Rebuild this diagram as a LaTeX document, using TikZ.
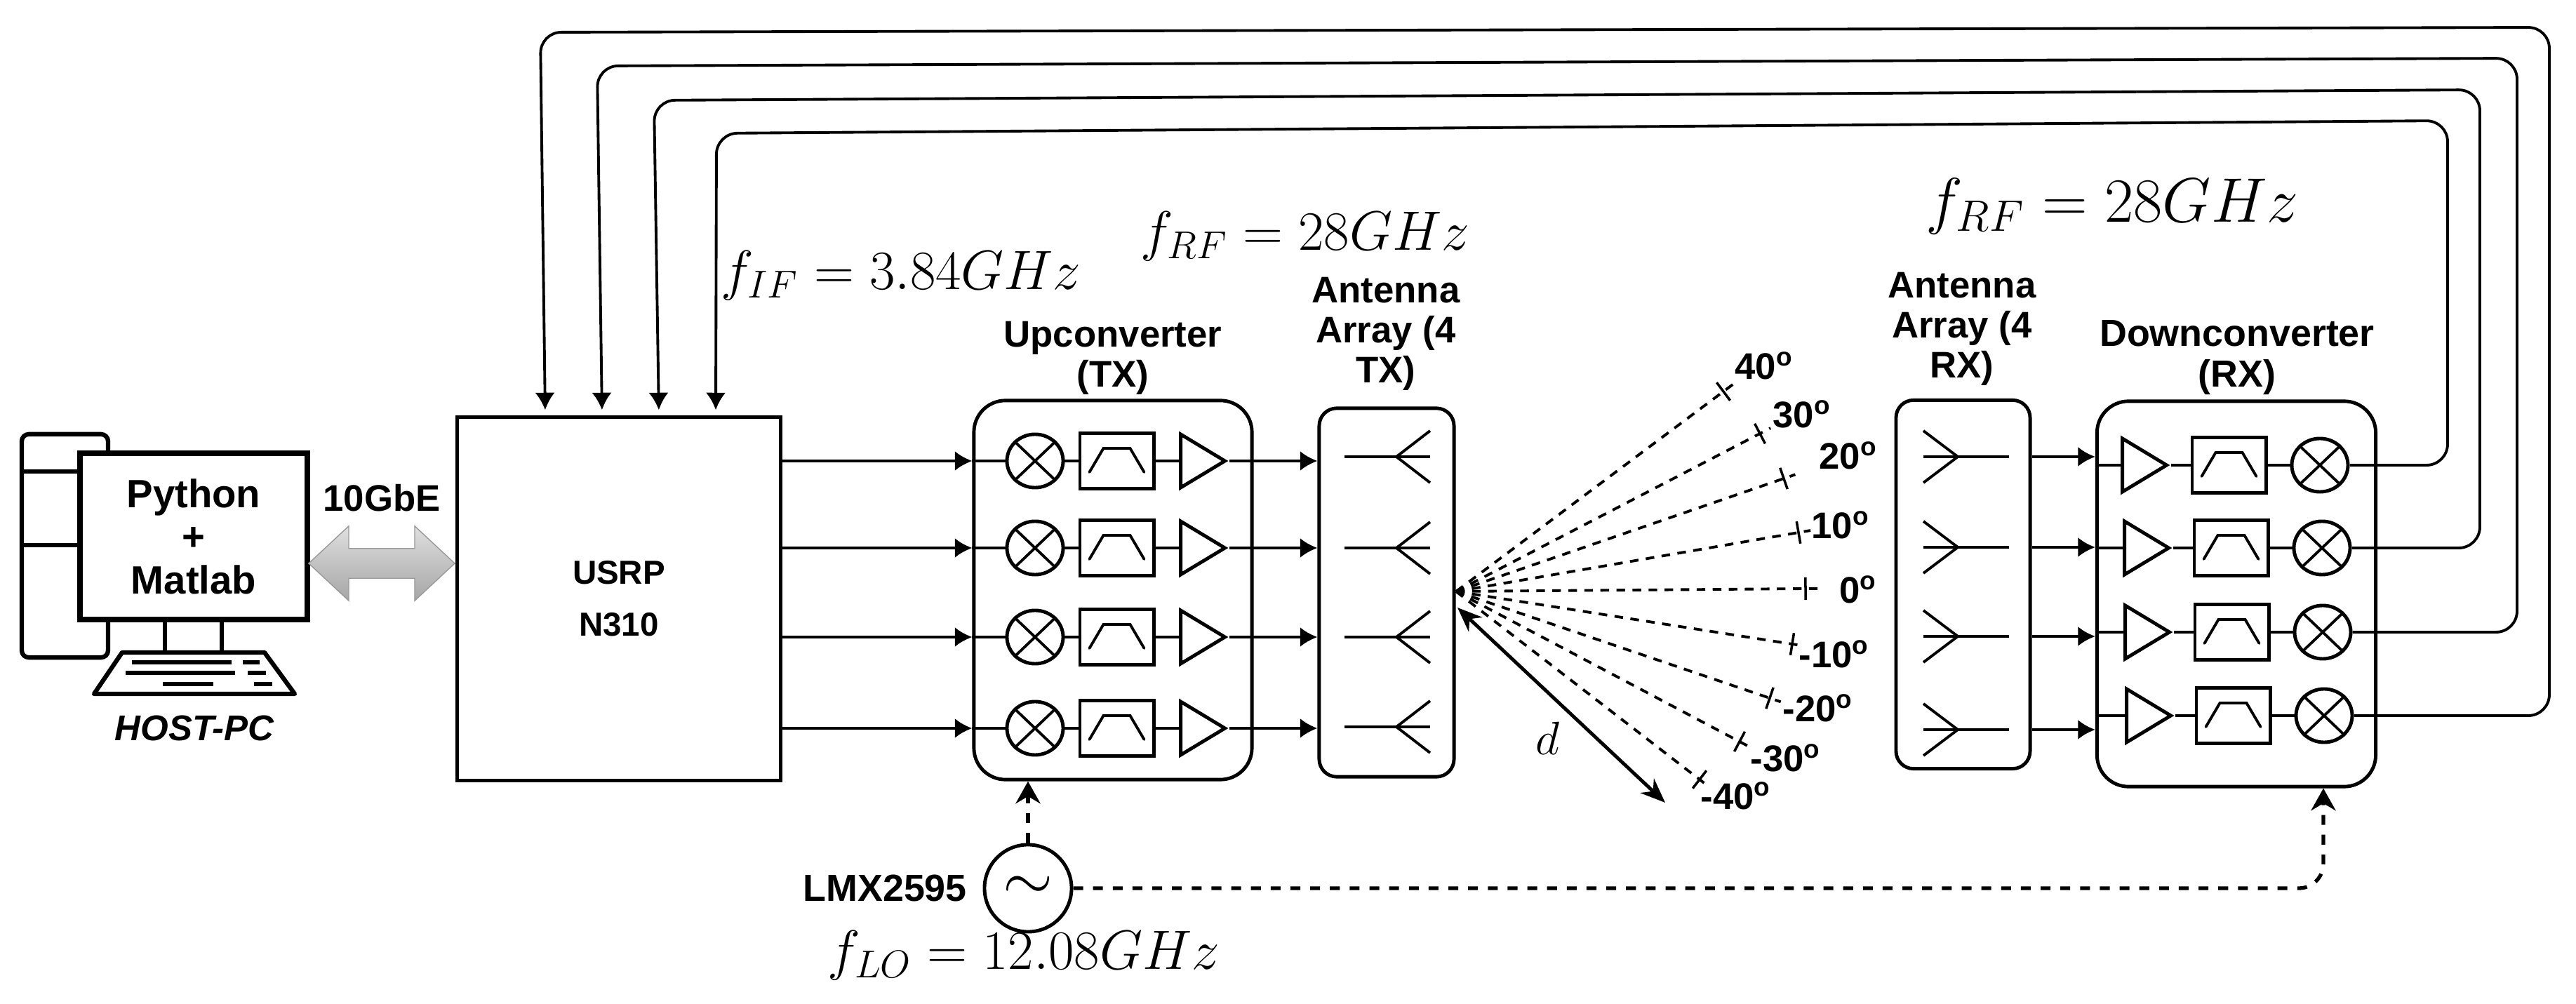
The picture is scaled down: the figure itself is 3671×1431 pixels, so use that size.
\documentclass[tikz,border=0pt]{standalone}
\usepackage{fix-cm}
\usepackage[no-math]{fontspec}
\setmainfont{Liberation Sans}
\usetikzlibrary{arrows.meta,calc,shapes.geometric,shapes.arrows}

\tikzset{
    wire/.style={line width=1.1pt},
    box/.style={draw, line width=1.4pt, inner sep=0pt},
    mixer/.style={ellipse, box, minimum width=0.8cm, minimum height=0.76cm},
    filterbox/.style={rectangle, box, minimum width=1.05cm, minimum height=0.79cm},
    amp/.style={isosceles triangle, isosceles triangle stretches, shape border rotate=0, box, minimum width=0.76cm, minimum height=0.63cm},
    lbl/.style={font=\bfseries\fontsize{15}{16.3}\selectfont, align=center},
    deg/.style={font=\bfseries\fontsize{15}{16}\selectfont},
    eqn/.style={font=\fontsize{22.5}{26}\selectfont},
    tip/.style={-{Latex[length=7pt,width=8pt]}},
    lodash/.style={line width=1.5pt, dash pattern=on 4pt off 4pt}
}

\begin{document}
\begin{tikzpicture}[x=0.01cm, y=-0.01cm]
    \useasboundingbox (0,0) rectangle (3671,1431);

    % Il PC: torre dietro, poi monitor e tastiera
    \node[box, line width=1.8pt, rounded corners=0.1cm, minimum width=1.23cm, minimum height=3.18cm] (tower) at (92.5,778) {};
    \draw[line width=1.8pt] (tower.west |- 0,672) -- (114,672);
    \draw[line width=1.8pt] (tower.west |- 0,777) -- (114,777);
    \node[box, line width=2.2pt, fill=white, minimum width=3.24cm, minimum height=2.37cm, align=center, font=\bfseries\fontsize{16}{17.5}\selectfont] (pc) at (276,764.5) {Python\\+\\Matlab};
    \coordinate (kb) at (275,930);
    \draw[line width=1.8pt] (pc.south -| 235,0) -- (kb -| 235,0);
    \draw[line width=1.8pt] (pc.south -| 316,0) -- (kb -| 316,0);
    \draw[line width=1.8pt, line join=round] (174,930) -- (377,930) -- (420,989) -- (134,989) -- cycle;
    \foreach \xa/\xb/\yk in {188/330/944, 346/370/944, 179/335/959, 353/379/959, 232/304/975, 362/388/975} {
        \draw[line width=1.8pt] (\xa,\yk) -- (\xb,\yk);
    }
    \node[font=\bfseries\itshape\fontsize{14.5}{16}\selectfont] (host) at (277,1038) {HOST-PC};

    % Collegamento verso la USRP
    \node[box, minimum width=4.61cm, minimum height=5.17cm, align=center, font=\bfseries\fontsize{13.5}{21}\selectfont] (usrp) at (882,853.5) {USRP\\N310};
    \node[double arrow, draw=gray!80, top color=gray!25, bottom color=gray!70, inner sep=0pt, minimum height=2.08cm, double arrow head extend=0.32cm, double arrow tip angle=86] (eth) at (544,803) {\rule{0pt}{0.41cm}};
    \node[font=\bfseries\fontsize{15}{16}\selectfont] (ethlbl) at (544,710) {10GbE};

    % Upconverter e array TX
    \node[box, rounded corners=0.45cm, minimum width=3.96cm, minimum height=5.4cm] (upbox) at (1586,841) {};
    \node[box, rounded corners=0.25cm, minimum width=1.92cm, minimum height=5.25cm] (atxbox) at (1976,844.5) {};
    \foreach \rw/\yr/\ya in {1/657/651, 2/781/781, 3/908/908, 4/1038/1036} {
        \node[mixer] (mt\rw) at (1475,\yr) {};
        \draw[wire] (mt\rw.north west) -- (mt\rw.south east);
        \draw[wire] (mt\rw.north east) -- (mt\rw.south west);
        \node[filterbox] (ft\rw) at (1591.5,\yr) {};
        \draw[wire, line cap=round] ($(ft\rw.center)+(-39,16)$) -- ($(ft\rw.center)+(-19,-18)$) -- ($(ft\rw.center)+(19,-18)$) -- ($(ft\rw.center)+(39,16)$);
        \node[amp] (at\rw) at (1704,\yr) {};
        \draw[wire] (mt\rw.east) -- (ft\rw.west);
        \draw[wire] (ft\rw.east) -- (at\rw.west);
        \draw[wire, tip] (usrp.east |- mt\rw) -- (upbox.west |- mt\rw);
        \draw[wire] (upbox.west |- mt\rw) -- (mt\rw.west);
        \draw[wire, tip] (at\rw.east) -- (atxbox.west |- at\rw);
        % Antenna TX
        \coordinate (ant\rw) at (1990,\ya);
        \draw[wire] (1916,\ya) -- (ant\rw) -- ++(48,0);
        \draw[wire] (ant\rw) -- ++(48,-37);
        \draw[wire] (ant\rw) -- ++(48,37);
    }
    \node[lbl] (lbup) at (1586,510) {Upconverter\\(TX)};
    \node[lbl] (lbatx) at (1975,476) {Antenna\\Array (4\\TX)};

    % Array RX e downconverter
    \node[box, rounded corners=0.25cm, minimum width=1.91cm, minimum height=5.25cm] (arxbox) at (2797.5,833) {};
    \node[box, rounded corners=0.45cm, minimum width=3.97cm, minimum height=5.49cm] (dnbox) at (3187,846.5) {};
    \foreach \rw/\ya/\ym/\dx in {1/651/663/0, 2/780/781/3, 3/907/901/4, 4/1040/1020/6} {
        \coordinate (ar\rw) at (2790,\ya);
        \draw[wire] (2863,\ya) -- (ar\rw) -- ++(-49,0);
        \draw[wire] (ar\rw) -- ++(-49,-37);
        \draw[wire] (ar\rw) -- ++(-49,37);
        \node[amp] (am\rw) at ({3046+\dx},\ym) {};
        \node[filterbox] (fr\rw) at ({3176.5+\dx},\ym) {};
        \draw[wire, line cap=round] ($(fr\rw.center)+(-39,16)$) -- ($(fr\rw.center)+(-19,-18)$) -- ($(fr\rw.center)+(19,-18)$) -- ($(fr\rw.center)+(39,16)$);
        \node[mixer] (md\rw) at ({3306+\dx},\ym) {};
        \draw[wire] (md\rw.north west) -- (md\rw.south east);
        \draw[wire] (md\rw.north east) -- (md\rw.south west);
        \draw[wire, tip] (arxbox.east |- ar\rw) -- (dnbox.west |- ar\rw);
        \draw[wire] (dnbox.west |- am\rw) -- (am\rw.west);
        \draw[wire] (am\rw.east) -- (fr\rw.west);
        \draw[wire] (fr\rw.east) -- (md\rw.west);
    }
    \node[lbl] (lbarx) at (2796,469) {Antenna\\Array (4\\RX)};
    \node[lbl, font=\bfseries\fontsize{15.3}{16.5}\selectfont] (lbdn) at (3188,510) {Downconverter\\(RX)};

    % Ritorno dei quattro canali verso la USRP
    \foreach \rw/\xr/\yt/\xc/\yl/\xu in {1/3488/172/1021/190/1020, 2/3534/128/932/143/939, 3/3587/83/851/94/858, 4/3633/39/770/46/777} {
        \draw[wire, rounded corners=0.3cm, tip, shorten >=0.08cm] (md\rw.east) -| (\xr,\yt) -- (\xc,\yl) -- (usrp.north -| \xu,0);
    }

    % Oscillatore locale
    \node[circle, draw, line width=1.4pt, inner sep=0pt, minimum size=1.24cm, font=\fontsize{26}{26}\selectfont] (lo) at (1465,1266) {$\sim$};
    \node[font=\bfseries\fontsize{15.3}{16}\selectfont, anchor=east, inner sep=0pt] (lmx) at ([xshift=-0.22cm]lo.west) {LMX2595};
    \draw[lodash, -{Stealth[length=9pt,width=10pt]}] (lo.north) -- (upbox.south -| lo.north);
    \draw[lodash, rounded corners=0.35cm, -{Stealth[length=9pt,width=10pt]}] (lo.east) -| (dnbox.south -| 3311,0);

    % Ventaglio degli angoli
    \coordinate (fan) at (2075,843);
    \foreach \an/\tx/\ty/\lx/\ly/\txt in {a/2456/558/2514/521/40, b/2508/618/2568/590/30, c/2542/682/2634/649/20, d/2563/759/2623/748/10, e/2573/839/2648/840/0, f/2554/918/2614/932/-10, g/2522/995/2591/1009/-20, h/2479/1057/2545/1080/-30, i/2422/1111/2474/1134/-40} {
        \coordinate (t\an) at (\tx,\ty);
        \draw[line width=1.1pt, dash pattern=on 3.5pt off 3pt] (fan) -- ($(fan)!1.035!(t\an)$);
        \draw[line width=1pt] ($(t\an)!0.16cm!90:(fan)$) -- ($(t\an)!0.16cm!-90:(fan)$);
        \node[deg] (d\an) at (\lx,\ly) {\txt\textsuperscript{o}};
    }
    \coordinate (da) at (2077,866);
    \coordinate (db) at (2373,1144);
    \draw[line width=1.4pt, {Stealth[length=10pt,width=8pt]}-{Stealth[length=10pt,width=8pt]}] (da) -- (db);
    \node[font=\fontsize{19}{20}\selectfont] (dlbl) at (2205,1052) {$d$};

    % Le frequenze
    \node[eqn] (firf) at (1284,393) {$f_{IF}=3.84GHz$};
    \node[eqn] (ftrf) at (1860,337) {$f_{RF}=28GHz$};
    \node[eqn, font=\fontsize{25.5}{28}\selectfont] (frrf) at (3010,294) {$f_{RF}=28GHz$};
    \node[eqn] (flo) at (1459,1362) {$f_{LO}=12.08GHz$};
\end{tikzpicture}
\end{document}
